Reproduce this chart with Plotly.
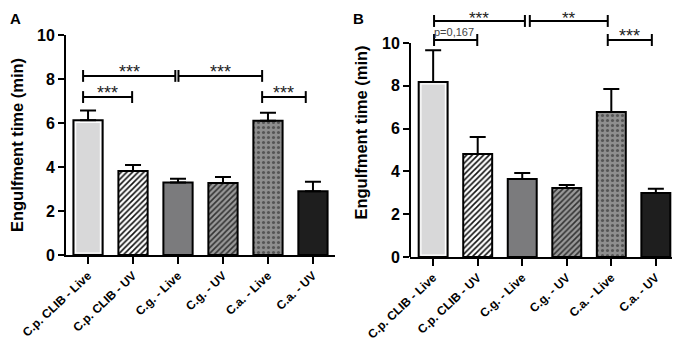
import plotly.graph_objects as go

categories = ["C.p. CLIB - Live", "C.p. CLIB - UV", "C.g. - Live", "C.g. - UV", "C.a. - Live", "C.a. - UV"]
positions = [0, 1, 2, 3, 4, 5]

# Panel A values (mean, SEM)
a_mean = [6.12, 3.82, 3.30, 3.27, 6.10, 2.90]
a_err = [0.45, 0.27, 0.17, 0.28, 0.37, 0.43]
# Panel B values
b_mean = [8.18, 4.81, 3.65, 3.22, 6.78, 2.99]
b_err = [1.48, 0.80, 0.28, 0.15, 1.07, 0.20]

y_ticks = [0, 2, 4, 6, 8, 10]

# Significance brackets: (x0, x1, y, label)
a_brackets = [
    (-0.11, 0.98, 7.18, "***"),
    (-0.11, 1.94, 8.14, "***"),
    (2.01, 3.87, 8.14, "***"),
    (3.87, 4.84, 7.18, "***"),
]
b_brackets = [
    (0.02, 0.99, 10.14, "p=0,167"),
    (0.02, 2.06, 11.03, "***"),
    (2.17, 3.92, 11.03, "**"),
    (3.92, 4.91, 10.14, "***"),
]

fill_colors = ["#d8d8d9", "#ffffff", "#7b7b7d", "#9a9a9a", "#8e8e8e", "#1e1e1e"]
pat_shapes = ["", "/", "", "/", ".", ""]
pat_fg = ["#000000", "#111111", "#000000", "#333333", "#555555", "#000000"]
pat_sol = [0.3, 0.4, 0.3, 0.4, 0.3, 0.3]
pat_size = [4, 4, 4, 4, 5, 4]

FONT = "Liberation Sans, Arial, sans-serif"

# the page body has an 8px margin: map reference pixels to figure paper coords
OFF = 8
W, H = 680, 341
def px(xp):
    return (xp - OFF) / W
def py(yp):
    return 1 - (yp - OFF) / H

fig = go.Figure()

def add_panel(mean, err, xa, ya):
    for i in range(len(categories)):
        marker = dict(color=fill_colors[i], line=dict(color="#000000", width=2))
        if pat_shapes[i]:
            marker["pattern"] = dict(shape=pat_shapes[i], fgcolor=pat_fg[i], fgopacity=1,
                                     solidity=pat_sol[i], size=pat_size[i], fillmode="overlay")
        fig.add_trace(go.Bar(
            x=[positions[i]], y=[mean[i]], xaxis=xa, yaxis=ya, width=0.65,
            marker=marker,
            error_y=dict(type="data", symmetric=False, array=[err[i]], arrayminus=[0],
                         color="#000000", thickness=2, width=8),
            showlegend=False, hoverinfo="skip", name=categories[i],
        ))
    # inner white rim of the first (light grey) bar
    fig.add_trace(go.Bar(
        x=[positions[0]], y=[mean[0] - 0.18], base=[0.09], xaxis=xa, yaxis=ya, width=0.55,
        marker=dict(color="rgba(0,0,0,0)", line=dict(color="#ffffff", width=1.2)),
        showlegend=False, hoverinfo="skip",
    ))

add_panel(a_mean, a_err, "x", "y")
add_panel(b_mean, b_err, "x2", "y2")

annotations = []

def add_brackets(brs, xa, ya, cap, top_level=None):
    xs, ys = [], []
    for x0, x1, yv, lab in brs:
        xs += [x0, x1, None, x0, x0, None, x1, x1, None]
        ys += [yv, yv, None, yv - cap, yv + cap, None, yv - cap, yv + cap, None]
        is_p = lab.startswith("p")
        if top_level is not None and yv >= top_level:
            # labels of the highest brackets sit against the top edge of the figure
            annotations.append(dict(x=(x0 + x1) / 2, y=1, xref=xa, yref="paper",
                                    text=lab, showarrow=False, yanchor="top",
                                    xanchor="center", borderpad=0,
                                    font=dict(family=FONT, size=17, color="#222222")))
        else:
            annotations.append(dict(
                x=(x0 + x1) / 2 if not is_p else x0 - 0.02, y=yv, xref=xa, yref=ya,
                text=lab, showarrow=False, yanchor="bottom",
                xanchor="center" if not is_p else "left",
                yshift=-7 if not is_p else 1, borderpad=0,
                font=dict(family=FONT, size=18 if not is_p else 11,
                          color="#222222" if not is_p else "#444444"),
            ))
    fig.add_trace(go.Scatter(
        x=xs, y=ys, xaxis=xa, yaxis=ya, mode="lines",
        line=dict(color="#000000", width=2), showlegend=False, hoverinfo="skip",
        cliponaxis=False,
    ))

add_brackets(a_brackets, "x", "y", 0.27)
add_brackets(b_brackets, "x2", "y2", 0.28, top_level=11.0)

# Panel letters
annotations.append(dict(x=0, y=1, xref="paper", yref="paper", text="<b>A</b>",
                        showarrow=False, xanchor="left", yanchor="top",
                        font=dict(family=FONT, size=15, color="#000")))
annotations.append(dict(x=px(351), y=1, xref="paper", yref="paper", text="<b>B</b>",
                        showarrow=False, xanchor="left", yanchor="top",
                        font=dict(family=FONT, size=15, color="#000")))

xaxis_common = dict(
    type="linear", tickvals=positions, ticktext=categories,
    showline=True, linecolor="#000", linewidth=2, automargin=False,
    ticks="outside", ticklen=7, tickwidth=2, tickcolor="#000",
    tickangle=-43, tickfont=dict(family=FONT, size=12, color="#000", weight="bold"),
    showgrid=False, zeroline=False, fixedrange=True,
)
yaxis_common = dict(
    tickvals=y_ticks, ticks="outside", ticklen=6, tickwidth=2, tickcolor="#000",
    tickfont=dict(family=FONT, size=16, color="#000", weight="bold"),
    showgrid=False, zeroline=False, automargin=False,
    title=dict(text="Engulfment time (min)",
               font=dict(family=FONT, size=16.5, color="#000", weight="bold")),
)

B_PX_PER_UNIT = 21.4
fig.update_layout(
    template="none",
    width=W, height=H,
    margin=dict(l=0, r=0, t=0, b=0, pad=0),
    paper_bgcolor="#ffffff", plot_bgcolor="rgba(0,0,0,0)",
    barmode="overlay",
    xaxis=dict(domain=[px(66), px(335)], range=[-0.49, 5.49], anchor="y", **xaxis_common),
    yaxis=dict(domain=[py(255), py(35)], range=[0, 10], anchor="x",
               showline=True, linecolor="#000", linewidth=2, **yaxis_common),
    xaxis2=dict(domain=[px(410), px(675)], range=[-0.52, 5.43], anchor="y2", **xaxis_common),
    yaxis2=dict(domain=[py(257), 1], range=[0, (257 - OFF) / B_PX_PER_UNIT], anchor="x2",
                showline=False, **yaxis_common),
    annotations=annotations,
    shapes=[dict(type="line", xref="x2 domain", yref="y2", x0=0, x1=0, y0=0, y1=10,
                 line=dict(color="#000", width=2), layer="above")],
)

fig.write_html("out.html")
